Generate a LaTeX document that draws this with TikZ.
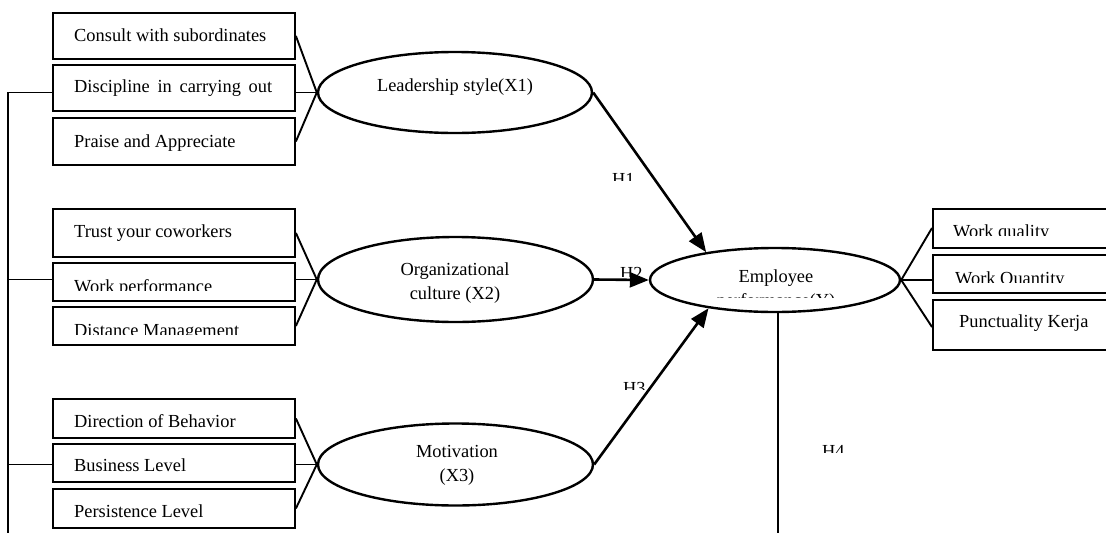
\documentclass[tikz,border=0pt]{standalone}
\usepackage{fontspec}
\setmainfont{Liberation Serif}
\usetikzlibrary{shapes.geometric,arrows.meta}
\newcommand\diagfont{\fontsize{18.4}{24}\selectfont}
\begin{document}
\begin{tikzpicture}[x=1pt,y=-1pt,
  ind/.style={draw,line width=1.9pt,minimum width=242pt,inner sep=0pt,anchor=north west},
  indr/.style={draw,line width=1.9pt,minimum width=200pt,inner sep=0pt,anchor=north west},
  lbl/.style={anchor=base west,inner sep=0pt,font=\diagfont},
  clbl/.style={anchor=base,inner sep=0pt,font=\diagfont},
  lat/.style={draw,ellipse,line width=2.4pt,inner sep=0pt},
  conn/.style={line width=1.9pt},
  hyp/.style={line width=2.6pt,-{Triangle[length=19pt,width=15pt]}},
]
\useasboundingbox (0,0) rectangle (1106,533);

% ---------- latent variables ----------
\node[lat,minimum width=274pt,minimum height=81pt] (e1) at (455,92.5) {};
\node[lat,minimum width=275pt,minimum height=85pt] (e2) at (455.5,279.5) {};
\node[lat,minimum width=275pt,minimum height=82pt] (e3) at (455.5,464.5) {};
\node[lat,minimum width=250pt,minimum height=64pt] (emp) at (775,280) {};

\node[clbl] (te1) at (455,91) {Leadership style(X1)};
\node[clbl] (te2a) at (455,275) {Organizational};
\node[clbl] (te2b) at (455,299) {culture (X2)};
\node[clbl] (te3a) at (457,457) {Motivation};
\node[clbl] (te3b) at (457,481) {(X3)};
\node[clbl] (tempa) at (776,282) {Employee};
\begin{scope}
  \clip (640,285) rectangle (910,297);
  \node[clbl] (tempb) at (776,306) {performance(Y)};
\end{scope}

% ---------- indicator boxes: leadership ----------
\node[ind,minimum height=46pt] (b11) at (52,12) {};
\node[ind,minimum height=46pt] (b12) at (52,64) {};
\node[ind,minimum height=47pt] (b13) at (52,117) {};
\node[lbl] (t11) at (74,41) {Consult with subordinates};
\node[lbl] (t12) at (74,92) {\makebox[198pt][s]{Discipline in carrying out}};
\node[lbl] (t13) at (74,147) {Praise and Appreciate};

% ---------- indicator boxes: culture ----------
\node[ind,minimum height=48pt] (b21) at (52,208) {};
\node[ind,minimum height=38pt] (b22) at (52,262) {};
\node[ind,minimum height=38pt] (b23) at (52,306) {};
\node[lbl] (t21) at (74,237) {Trust your coworkers};
\begin{scope}
  \clip (60,264) rectangle (290,290);
  \node[lbl] (t22) at (74,292) {Work performance};
\end{scope}
\begin{scope}
  \clip (60,308) rectangle (290,334);
  \node[lbl] (t23) at (74,336) {Distance Management};
\end{scope}

% ---------- indicator boxes: motivation ----------
\node[ind,minimum height=39pt] (b31) at (52,398) {};
\node[ind,minimum height=38pt] (b32) at (52,443) {};
\node[ind,minimum height=39pt] (b33) at (52,488) {};
\node[lbl] (t31) at (74,427) {Direction of Behavior};
\node[lbl] (t32) at (74,471) {Business Level};
\node[lbl] (t33) at (74,517) {Persistence Level};

% ---------- indicator boxes: performance ----------
\node[indr,minimum height=39pt] (r1) at (932,208) {};
\node[indr,minimum height=38pt] (r2) at (932,254) {};
\node[indr,minimum height=50pt] (r3) at (932,299) {};
\begin{scope}
  \clip (940,210) rectangle (1106,235);
  \node[lbl] (tr1) at (953,237) {Work quality};
\end{scope}
\begin{scope}
  \clip (940,256) rectangle (1106,282);
  \node[lbl] (tr2) at (955,284) {Work Quantity};
\end{scope}
\node[lbl] (tr3) at (959,327) {Punctuality Kerja};

% ---------- indicator connectors ----------
\draw[conn] (b11.east) -- (e1.west);
\draw[conn] (b12.east |- e1.west) -- (e1.west);
\draw[conn] (b13.east) -- (e1.west);
\draw[conn] (b21.east) -- (e2.west);
\draw[conn] (b22.east |- e2.west) -- (e2.west);
\draw[conn] (b23.east) -- (e2.west);
\draw[conn] (b31.east) -- (e3.west);
\draw[conn] (b32.east |- e3.west) -- (e3.west);
\draw[conn] (b33.east) -- (e3.west);

\coordinate (r1in) at (932,228);
\coordinate (r3in) at (932,327);
\draw[conn] (emp.east) -- (r1in);
\draw[conn] (emp.east) -- (r2.west |- emp.east);
\draw[conn] (emp.east) -- (r3in);

% ---------- left spine ----------
\coordinate (sp) at (8,533);
\draw[conn] (b12.west |- e1.west) -| (sp);
\draw[conn] (b22.west |- e2.west) -- (sp |- e2.west);
\draw[conn] (b32.west |- e3.west) -- (sp |- e3.west);

% ---------- hypotheses ----------
\draw[hyp] (e1.east) -- (emp.158);
\draw[hyp] (e2.east) -- (emp.west);
\draw[hyp] (e3.east) -- (emp.203);
\coordinate (h4b) at (778,533);
\draw[conn] (h4b |- emp.south) -- (h4b);

\begin{scope}
  \clip (600,170) rectangle (650,180);
  \node[lbl] (h1) at (612,185) {H1};
\end{scope}
\begin{scope}
  \clip (610,262) rectangle (660,276);
  \node[lbl] (h2) at (620,279) {H2};
\end{scope}
\begin{scope}
  \clip (610,378) rectangle (660,389);
  \node[lbl] (h3) at (623,394) {H3};
\end{scope}
\begin{scope}
  \clip (810,440) rectangle (860,452);
  \node[lbl] (h4) at (822,457) {H4};
\end{scope}
\end{tikzpicture}
\end{document}
